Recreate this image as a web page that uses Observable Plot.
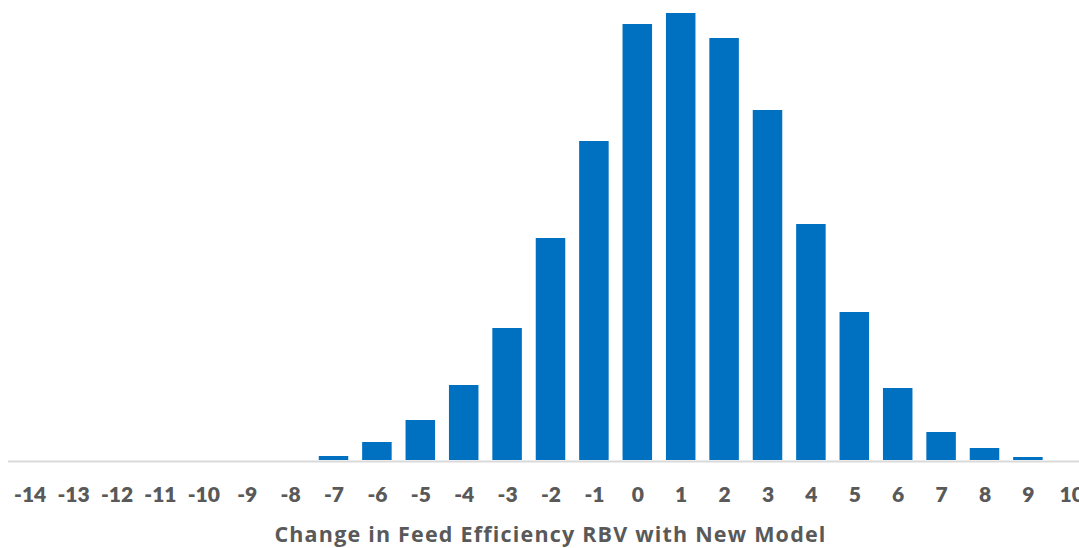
<!DOCTYPE html>
<html>
<head>
<meta charset="utf-8">
<script src="https://cdn.jsdelivr.net/npm/d3@7"></script>
<script src="https://cdn.jsdelivr.net/npm/@observablehq/plot@0.6"></script>
<style>
  html, body { margin: 0; padding: 0; background: #fff; overflow: hidden; width: 1079px; height: 548px; }
  #chart { position: relative; width: 1101px; }
  #chart svg { display: block; }
  #title { position: absolute; left: 0; top: 520px; width: 1101px; text-align: center; }
  #title span { font-family: "Open Sans", Lato, sans-serif; font-weight: 700; font-size: 21.5px; color: #595959; line-height: 28px; white-space: nowrap; display: inline-block; }
</style>
</head>
<body>
<div id="chart"></div>
<script>
const categories = [-14, -13, -12, -11, -10, -9, -8, -7, -6, -5, -4, -3, -2, -1, 0, 1, 2, 3, 4, 5, 6, 7, 8, 9, 10];
const values = [0, 0, 0, 0, 0, 0, 0, 4, 18, 40, 75, 132, 222, 319, 436, 447, 422, 350, 236, 148, 72, 28, 12, 3, 0];
const xLabel = "Change in Feed Efficiency RBV with New Model";

const data = categories.map((c, i) => ({cat: String(c), value: values[i]}));

const plot = Plot.plot({
  width: 1093,
  height: 515,
  marginLeft: 8,
  marginRight: 0,
  marginTop: 0,
  marginBottom: 55,
  style: {fontFamily: "Lato, 'Open Sans', sans-serif", background: "white", overflow: "visible"},
  x: {domain: categories.map(String), paddingInner: 0.32, paddingOuter: 0.16, align: 0.5, round: false},
  y: {domain: [0, 460], axis: null},
  marks: [
    Plot.barY(data, {x: "cat", y: "value", fill: "#0070C0"}),
    Plot.ruleY([0], {stroke: "#d9d9d9", strokeWidth: 2, dy: 1}),
    Plot.axisX({tickSize: 0, tickPadding: 27, label: null, fontSize: 21, fontWeight: 800, fill: "#595959"})
  ]
});
const holder = document.getElementById("chart");
holder.appendChild(plot);
const t = document.createElement("div");
t.id = "title";
const s = document.createElement("span");
s.textContent = xLabel;
t.appendChild(s);
holder.appendChild(t);
// stretch the label to the reference's measured width
const w = s.getBoundingClientRect().width;
const target = 551;
s.style.letterSpacing = ((target - w) / (xLabel.length - 1)) + "px";
</script>
</body>
</html>
